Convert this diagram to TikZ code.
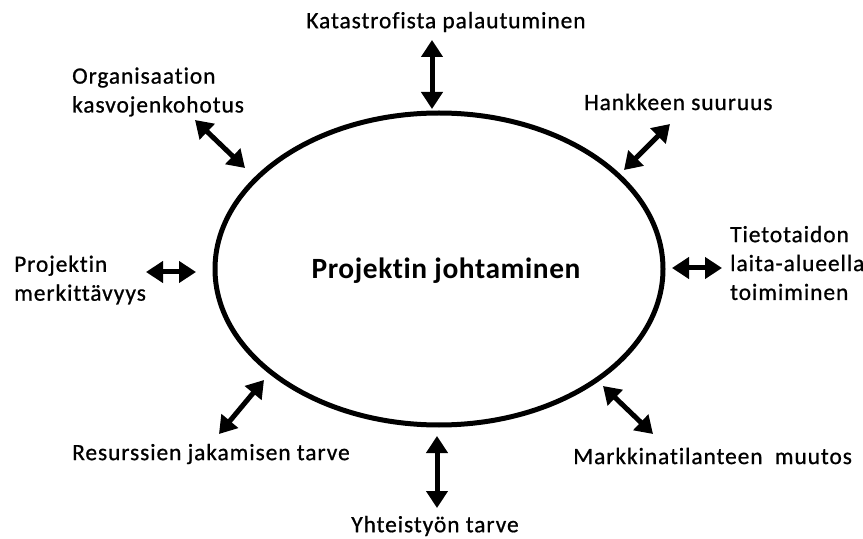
\documentclass[tikz,border=0pt]{standalone}
\usepackage{fontspec}
\setmainfont{Carlito}[Ligatures=NoCommon]
\newfontfamily\labelfont{Carlito}[Ligatures=NoCommon, LetterSpace=4, FakeBold=0.8]
\newfontfamily\corefont{Carlito}[Ligatures=NoCommon, LetterSpace=2, BoldFont={Carlito Bold}]
\usetikzlibrary{arrows.meta}
\begin{document}
\begin{tikzpicture}[x=1bp,y=-1bp,
  lbl/.style={font=\labelfont\fontsize{23.5}{29}\selectfont, inner sep=0pt},
  lbll/.style={lbl, align=left, anchor=west},
  dbl/.style={line width=5bp, {Triangle[width=21bp,length=17bp]}-{Triangle[width=21bp,length=17bp]}}
]
\useasboundingbox (0,0) rectangle (863,539);

% central ellipse
\draw[line width=5bp] (439,269) ellipse [x radius=224, y radius=156];
\node[font=\corefont\bfseries\fontsize{29.5}{34}\selectfont] (core) at (446,271) {Projektin johtaminen};

% surrounding factors
\node[lbl] (top) at (446,22) {Katastrofista palautuminen};
\node[lbll] (ul) at (72,92) {Organisaation\\kasvojenkohotus};
\node[lbll] (ur) at (584,102) {Hankkeen suuruus};
\node[lbll] (le) at (14,280) {Projektin\\merkittävyys};
\node[lbll] (ri) at (730,263) {Tietotaidon\\laita-alueella\\toimiminen};
\node[lbll] (ll) at (72,454) {Resurssien jakamisen tarve};
\node[lbll] (lr) at (573,456) {Markkinatilanteen\hspace{6bp} muutos};
\node[lbl] (bot) at (435,526) {Yhteistyön tarve};

% connector end points
\coordinate (t1) at (432,40);  \coordinate (t2) at (432,109);
\coordinate (a1) at (195,120); \coordinate (a2) at (245,168);
\coordinate (b1) at (670,124); \coordinate (b2) at (624,170);
\coordinate (c1) at (146,272); \coordinate (c2) at (196,272);
\coordinate (d1) at (722,268); \coordinate (d2) at (672,268);
\coordinate (e1) at (219,434); \coordinate (e2) at (264,380);
\coordinate (f1) at (653,434); \coordinate (f2) at (603,386);
\coordinate (g1) at (437,508); \coordinate (g2) at (437,436);

\foreach \p/\q in {t1/t2,a1/a2,b1/b2,c1/c2,d1/d2,e1/e2,f1/f2,g1/g2}
  \draw[dbl] (\p) -- (\q);
\end{tikzpicture}
\end{document}
